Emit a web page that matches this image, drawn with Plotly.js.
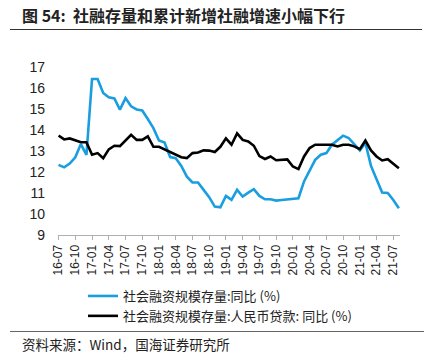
<!DOCTYPE html>
<html>
<head>
<meta charset="utf-8">
<script src="https://cdn.plot.ly/plotly-3.0.1.min.js"></script>
<style>
html,body{margin:0;padding:0;background:#fff;}
#chart{width:424px;height:361px;}
</style>
</head>
<body>
<div id="chart"></div>
<script>
// Months 2016-07 .. 2021-08
const months = ["16-07","16-08","16-09","16-10","16-11","16-12",
"17-01","17-02","17-03","17-04","17-05","17-06","17-07","17-08","17-09","17-10","17-11","17-12",
"18-01","18-02","18-03","18-04","18-05","18-06","18-07","18-08","18-09","18-10","18-11","18-12",
"19-01","19-02","19-03","19-04","19-05","19-06","19-07","19-08","19-09","19-10","19-11","19-12",
"20-01","20-02","20-03","20-04","20-05","20-06","20-07","20-08","20-09","20-10","20-11","20-12",
"21-01","21-02","21-03","21-04","21-05","21-06","21-07","21-08"];

// 社会融资规模存量:同比 (%)
const tsfStock = [12.34,12.22,12.4,12.7,13.33,12.82,
16.43,16.43,15.76,15.56,15.5,14.97,15.52,15.13,14.98,14.93,14.52,14.09,
13.5,13.4,12.71,12.66,12.29,11.78,11.5,11.5,11.15,10.8,10.35,10.32,
10.86,10.67,11.15,10.83,11.02,11.18,10.86,10.7,10.7,10.64,10.67,10.7,
10.7,10.75,11.55,12.1,12.58,12.82,12.9,13.3,13.5,13.73,13.62,13.3,
13.03,13.38,12.29,11.66,11.02,11.0,10.67,10.27];

// 社会融资规模存量:人民币贷款:同比 (%)
const tsfLoan = [13.73,13.55,13.6,13.5,13.42,13.42,
12.82,12.9,12.66,13.08,13.25,13.23,13.5,13.77,13.53,13.53,13.7,13.2,
13.2,13.08,12.95,12.82,12.7,12.66,12.9,12.93,13.03,13.02,12.95,13.2,
13.6,13.3,13.84,13.53,13.45,13.25,12.76,12.62,12.74,12.56,12.58,12.6,
12.26,12.14,12.74,13.14,13.3,13.3,13.3,13.3,13.22,13.3,13.3,13.22,
13.09,13.5,13.03,12.74,12.55,12.61,12.39,12.18];

const tickLabels = months.filter((m,i)=>i%3===0);
const yTicks = [9,10,11,12,13,14,15,16,17];

const seriesNames = ["社会融资规模存量:同比 (%)","社会融资规模存量:人民币贷款: 同比 (%)"];

const L=58, R=400, T=67, B=235;
const W=R-L, H=B-T;
const px = x => (x-L)/W;
const py = y => (B-y)/H;

const traces = [
  {x: months, y: tsfStock, type:'scatter', mode:'lines', name: seriesNames[0],
   line:{color:'#1a9ee0', width:2.6}},
  {x: months, y: tsfLoan, type:'scatter', mode:'lines', name: seriesNames[1],
   line:{color:'#000000', width:2.6}}
];

const layout = {
  width:424, height:361,
  margin:{l:L, r:424-R, t:T, b:361-B, pad:0},
  paper_bgcolor:'#fff', plot_bgcolor:'#fff',
  showlegend:true,
  font:{family:'"Liberation Sans", Arial, "Noto Sans CJK SC", sans-serif', color:'#222'},
  xaxis:{type:'category', range:[-0.1, 61.2], tickmode:'array', tickvals: tickLabels, ticktext: tickLabels,
    tickangle:-90, tickfont:{size:12, color:'#222'}, showgrid:false, zeroline:false,
    showline:true, linecolor:'#b0b0b0', linewidth:1, ticks:'outside', ticklen:4, tickcolor:'#b0b0b0'},
  yaxis:{range:[9,17], tickmode:'array', tickvals:yTicks, showgrid:false, zeroline:false, showline:false,
    tickfont:{size:14, color:'#222'}, ticks:'', ticklabelstandoff:12},
  legend:{x:px(83), y:py(281), xanchor:'left', yanchor:'top', orientation:'v',
    font:{size:13, family:'"Noto Sans CJK SC", sans-serif', color:'#222'}, bgcolor:'rgba(0,0,0,0)', tracegroupgap:0},
  annotations:[
    {text:'<b>图 54:  社融存量和累计新增社融增速小幅下行</b>', xref:'paper', yref:'paper', x:px(20), y:py(15),
     xanchor:'left', yanchor:'middle', showarrow:false, font:{size:16, family:'"Noto Sans CJK SC", sans-serif', color:'#222'}},
    {text:'资料来源：Wind，国海证券研究所', xref:'paper', yref:'paper', x:px(20), y:py(344),
     xanchor:'left', yanchor:'middle', showarrow:false, font:{size:13.5, family:'"Noto Sans CJK SC", sans-serif', color:'#222'}}
  ],
  shapes:[
    {type:'line', xref:'paper', yref:'paper', x0:px(10), x1:px(422), y0:py(29.5), y1:py(29.5), line:{color:'#333', width:1.2}},
    {type:'line', xref:'paper', yref:'paper', x0:px(10), x1:px(424), y0:py(331.5), y1:py(331.5), line:{color:'#666', width:1.2}}
  ]
};

Plotly.newPlot('chart', traces, layout, {displayModeBar:false, staticPlot:true});
</script>
</body>
</html>
